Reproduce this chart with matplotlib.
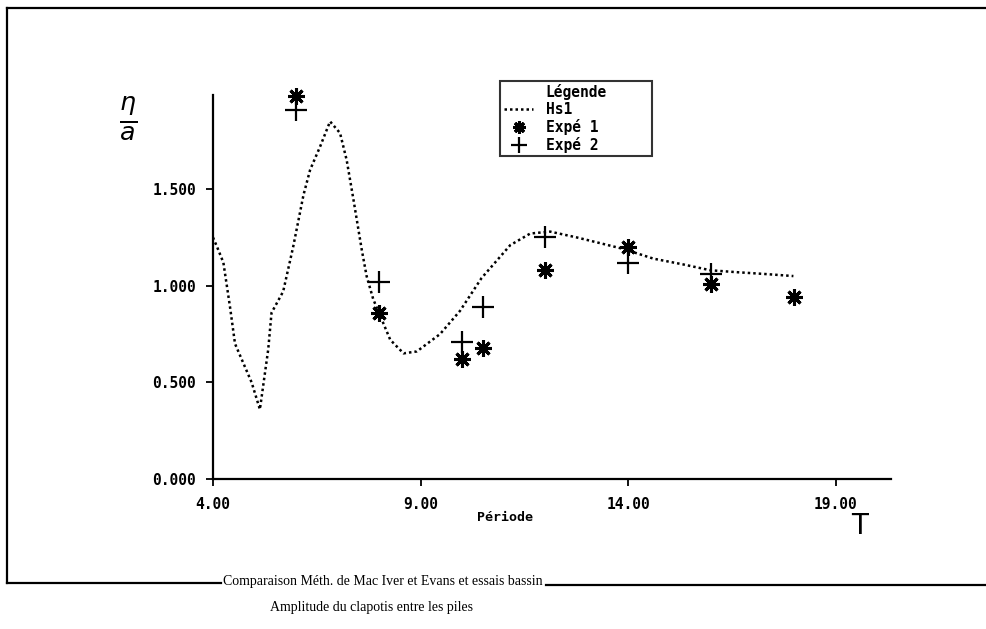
import matplotlib
matplotlib.use("Agg")
import matplotlib.pyplot as plt
from matplotlib.lines import Line2D
import numpy as np

# courbe calculee (Hs1) : periode T, amplitude eta/a
T_hs1 = [4.00, 4.10, 4.25, 4.41, 4.53, 4.93, 5.13, 5.33, 5.41, 5.69, 5.93, 6.18,
         6.34, 6.58, 6.82, 7.06, 7.22, 7.38, 7.58, 7.70, 7.86, 8.27, 8.59, 8.91,
         9.47, 9.95, 10.47, 11.16, 11.64, 12.12, 12.76, 13.33, 13.89, 14.61,
         15.33, 15.98, 16.62, 17.34, 17.98]
A_hs1 = [1.25, 1.20, 1.12, 0.89, 0.70, 0.50, 0.36, 0.67, 0.86, 0.97, 1.20, 1.47,
         1.60, 1.72, 1.85, 1.79, 1.65, 1.45, 1.19, 1.05, 0.93, 0.72, 0.65, 0.66,
         0.75, 0.87, 1.04, 1.21, 1.27, 1.28, 1.25, 1.22, 1.19, 1.14,
         1.11, 1.08, 1.07, 1.06, 1.05]

# essais bassin
T_exp1 = [6.0, 8.0, 10.0, 10.5, 12.0, 14.0, 16.0, 18.0]
A_exp1 = [1.98, 0.86, 0.62, 0.68, 1.08, 1.20, 1.01, 0.94]
T_exp2 = [6.0, 8.0, 10.0, 10.5, 12.0, 14.0, 16.0]
A_exp2 = [1.91, 1.02, 0.71, 0.89, 1.25, 1.12, 1.06]

xticks = [4, 9, 14, 19]
yticks = [0.0, 0.5, 1.0, 1.5]

mono = {"family": "DejaVu Sans Mono", "weight": "bold"}

fig = plt.figure(figsize=(9.87, 6.29), dpi=100)
ax = fig.add_axes([0.2158, 0.2385, 0.6869, 0.6105])

ax.plot(T_hs1, A_hs1, color="black", lw=1.8, dashes=(1.0, 1.2), label="Hs1")
ax.plot(T_exp1, A_exp1, ls="none", marker=(8, 2, 0), ms=12, mew=2.2,
        color="black", label="Expé 1", clip_on=False)
ax.plot(T_exp2, A_exp2, ls="none", marker="+", ms=16, mew=1.6,
        color="black", label="Expé 2", clip_on=False)

ax.set_xlim(4, 20.33)
ax.set_ylim(0, 1.987)
ax.set_xticks(xticks)
ax.set_yticks(yticks)
ax.set_xticklabels(["%.2f" % v for v in xticks], fontdict=mono, fontsize=10.5)
ax.set_yticklabels(["%.3f" % v for v in yticks], fontdict=mono, fontsize=10.5)
ax.tick_params(direction="out", length=5, width=1.3, colors="black")
ax.tick_params(axis="y", pad=7)
ax.tick_params(axis="x", pad=8)
for s in ["top", "right"]:
    ax.spines[s].set_visible(False)
for s in ["left", "bottom"]:
    ax.spines[s].set_linewidth(1.6)

leg = ax.legend(loc="upper left", bbox_to_anchor=(0.424, 0.84, 0.224, 0.197),
                mode="expand", title="Légende",
                prop={"family": "DejaVu Sans Mono", "weight": "bold", "size": 10.5},
                frameon=True, fancybox=False, edgecolor="black", handlelength=2.0,
                handletextpad=0.9, borderpad=0.25, labelspacing=0.12, markerscale=0.75,
                borderaxespad=0)
leg.get_frame().set_linewidth(1.5)
leg.get_title().set_fontweight("bold")
leg.get_title().set_fontsize(10.5)
leg.get_title().set_family("DejaVu Sans Mono")

ax.text(0.43, -0.1, "Période", transform=ax.transAxes, ha="center", va="center",
        fontsize=9.5, **mono)

# annotations manuscrites
fig.text(128 / 987, 1 - 118 / 629, r"$\frac{\eta}{a}$", fontsize=26, ha="center", va="center")
fig.text(860 / 987, 1 - 526 / 629, "T", fontsize=20, ha="center", va="center",
         family="DejaVu Sans")

# cadre de la page
fig.add_artist(Line2D([7 / 987, 1.0], [1 - 8 / 629] * 2, color="black", lw=1.6))
fig.add_artist(Line2D([7 / 987] * 2, [1 - 8 / 629, 1 - 583 / 629], color="black", lw=1.6))
fig.add_artist(Line2D([7 / 987, 221 / 987], [1 - 583 / 629] * 2, color="black", lw=1.6))
fig.add_artist(Line2D([546 / 987, 1.0], [1 - 585 / 629] * 2, color="black", lw=1.6))

fig.text(383 / 987, 1 - 582 / 629, "Comparaison Méth. de Mac Iver et Evans et essais bassin",
         family="Liberation Serif", fontsize=10.0, ha="center", va="center")
fig.text(372 / 987, 1 - 608 / 629, "Amplitude du clapotis entre les piles",
         family="Liberation Serif", fontsize=10.0, ha="center", va="center")

fig.savefig("out.png", dpi=100)
